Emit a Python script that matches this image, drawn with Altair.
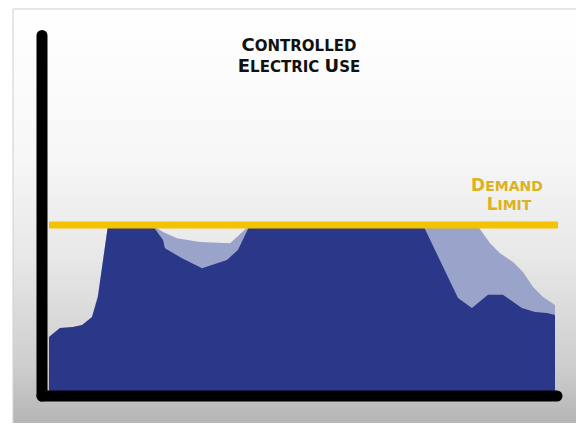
import altair as alt
import pandas as pd

# ---- data (hours of day vs. load, % of demand limit) ----
hours_controlled = [0, 0.52, 1.14, 1.57, 2.04, 2.32, 2.80, 4.89, 5.41, 5.50, 6.31, 7.26,
                    8.44, 8.96, 9.53, 17.74, 19.40, 20.06, 20.82, 21.53, 22.43, 23.05, 23.62, 24]
load_controlled = [32.5, 38, 38.6, 39.8, 44.6, 56.6, 100, 100, 91, 86, 80, 74,
                   79, 85, 100, 100, 56, 50, 58, 58, 50, 47.6, 47, 45.8]

hours_uncontrolled = [0, 0.52, 1.14, 1.57, 2.04, 2.32, 2.80, 4.89, 5.41, 6.07, 7.16, 8.59,
                      9.53, 17.74, 20.30, 20.92, 21.39, 22.01, 22.48, 22.96, 23.43, 24]
load_uncontrolled = [32.5, 38, 38.6, 39.8, 44.6, 58, 100, 100, 95.8, 92, 89.8, 89,
                     100, 100, 100, 89, 83, 77.7, 71.7, 62.7, 56.6, 51.8]

demand_limit = 100

title_lines = [[("C", 18), ("ONTROLLED", 15)],
               [("E", 18), ("LECTRIC", 15), (" ", 15), ("U", 18), ("SE", 15)]]
limit_lines = [[("D", 17), ("EMAND", 14)], [("L", 17), ("IMIT", 14)]]

# ---- layout ----
W, H = 506, 361
FONT = "DejaVu Sans"
DARK = "#2b388a"
LIGHT = "#9aa3c9"
GOLD = "#f3c300"
GOLD_TEXT = "#dcb21e"

ADV = {"A": .774, "C": .734, "D": .830, "E": .683, "I": .372, "L": .637, "M": .995,
       "N": .837, "O": .850, "R": .770, "S": .720, "T": .682, "U": .812, " ": .348}


def seg_width(t, s):
    return sum(ADV.get(ch, .7) for ch in t) * s


def text_line(segments, cx, base, color):
    total = sum(seg_width(t, s) for t, s in segments)
    x = cx - total / 2
    out = []
    for t, s in segments:
        if t.strip():
            out.append(
                alt.Chart(alt.Data(values=[{}]))
                .mark_text(text=t, fontSize=s, font=FONT, fontWeight="bold", color=color,
                           align="left", baseline="alphabetic")
                .encode(x=alt.value(x), y=alt.value(base))
            )
        x += seg_width(t, s)
    return out


one = alt.Data(values=[{}])

shadow = alt.Chart(one).mark_rect(fill="#9a9a9a", opacity=0.35).encode(
    x=alt.value(-33), x2=alt.value(536), y=alt.value(-18), y2=alt.value(401))

frame = alt.Chart(one).mark_rect(
    fill=alt.Gradient(gradient="linear", x1=0, x2=0, y1=0, y2=1,
                      stops=[alt.GradientStop(color="#ffffff", offset=0),
                             alt.GradientStop(color="#f7f7f7", offset=0.35),
                             alt.GradientStop(color="#e7e7e7", offset=0.6),
                             alt.GradientStop(color="#cecece", offset=0.85),
                             alt.GradientStop(color="#b3b3b3", offset=1)]),
    stroke="#cfcfcf", strokeWidth=1,
).encode(x=alt.value(-36), x2=alt.value(529), y=alt.value(-21), y2=alt.value(398))

df_u = pd.DataFrame({"hour": hours_uncontrolled, "load": load_uncontrolled})
df_c = pd.DataFrame({"hour": hours_controlled, "load": load_controlled})

xs = alt.Scale(domain=[0, 24], nice=False, zero=False)
ys = alt.Scale(domain=[0, 217.5], nice=False)

area_u = alt.Chart(df_u).mark_area(color=LIGHT, opacity=1).encode(
    x=alt.X("hour:Q", scale=xs, axis=None),
    y=alt.Y("load:Q", scale=ys, axis=None))
area_c = alt.Chart(df_c).mark_area(color=DARK, opacity=1).encode(
    x=alt.X("hour:Q", scale=xs, axis=None),
    y=alt.Y("load:Q", scale=ys, axis=None))

limit = alt.Chart(one).mark_rule(color=GOLD, strokeWidth=7).encode(
    y=alt.datum(demand_limit), x=alt.value(0), x2=alt.value(509))

yaxis = alt.Chart(one).mark_rule(color="#000000", strokeWidth=11, strokeCap="round").encode(
    x=alt.value(-7), y=alt.value(5.5), y2=alt.value(366))
xaxis = alt.Chart(one).mark_rule(color="#000000", strokeWidth=11, strokeCap="round").encode(
    y=alt.value(366), x=alt.value(-7), x2=alt.value(508))

texts = []
texts += text_line(title_lines[0], 250, 21, "#111111")
texts += text_line(title_lines[1], 250, 42, "#111111")
texts += text_line(limit_lines[0], 458, 161, GOLD_TEXT)
texts += text_line(limit_lines[1], 460, 180, GOLD_TEXT)

chart = alt.layer(shadow, frame, area_u, area_c, limit, yaxis, xaxis, *texts).properties(
    width=W, height=H,
    padding={"left": 41, "top": 22, "right": 21, "bottom": 32},
    autosize=alt.AutoSizeParams(type="none"),
).configure_view(stroke=None).configure(background="#ffffff")

chart.save("out.html", embed_options={"renderer": "svg", "actions": False})
